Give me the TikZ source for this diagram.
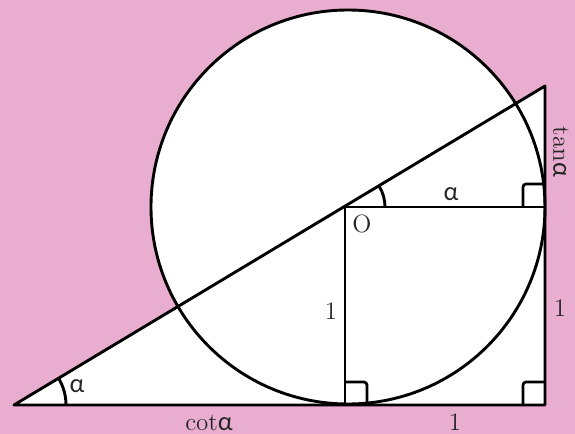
\documentclass[tikz,border=0pt]{standalone}
\usepackage{fontspec}
\newfontfamily\alphafont{Lato}
\usetikzlibrary{calc}
\definecolor{bgpink}{RGB}{233,173,208}
\newcommand{\alp}{{\alphafont α}}

\begin{document}
\begin{tikzpicture}[x=0.5pt, y=-0.5pt, font=\fontsize{12.5}{14}\selectfont,
  fig/.style={line width=1.45pt, line join=round},
  rmark/.style={line width=1.35pt, rounded corners=1.5pt},
  lbl/.style={text=black!85, inner sep=0pt}]
  % --- background ---
  \fill[bgpink] (0,0) rectangle (575,434);
  \useasboundingbox (0,0) rectangle (575,434);
  % --- points ---
  \coordinate (A) at (14,405);
  \coordinate (O) at (345,207);
  \coordinate (T) at (545,86);
  \coordinate (B) at (545,405);
  \coordinate (F) at (345,405);
  \coordinate (H) at (545,207);
  \coordinate (C) at (348,207);
  % --- white regions ---
  \fill[white] (C) circle[radius=197];
  \fill[white] (A) -- (T) -- (B) -- cycle;
  % --- outlines ---
  \draw[fig] (C) circle[radius=197];
  \draw[fig] (A) -- (T) -- (B) -- cycle;
  \draw[fig] (O) -- (H);
  \draw[fig] (O) -- (F);
  % --- angle arcs ---
  \draw[fig] ($(A)+(52,0)$) arc[start angle=0, end angle=-30.9, radius=52];
  \draw[fig] ($(O)+(40,0)$) arc[start angle=0, end angle=-30.9, radius=40];
  % --- right angle marks ---
  \draw[rmark] ($(H)+(-22,0)$) -- ++(0,-23) -- ++(22,0);
  \draw[rmark] ($(F)+(0,-23)$) -- ++(22,0) -- ++(0,23);
  \draw[rmark] ($(B)+(-22,0)$) -- ++(0,-23) -- ++(22,0);
  % --- labels ---
  \node[lbl] (lO) at (362,224) {O};
  \node[lbl] (lalO) at (451,194) {\alp};
  \node[lbl] (lalA) at (77,386) {\alp};
  \node[lbl] (lonel) at (331,311) {1};
  \node[lbl] (loner) at (560,308) {1};
  \node[lbl] (loneb) at (455,422) {1};
  \node[lbl] (lcot) at (209,423) {cot\alp};
  \node[lbl, rotate=-90] (ltan) at (561,152) {tan\alp};
\end{tikzpicture}
\end{document}
